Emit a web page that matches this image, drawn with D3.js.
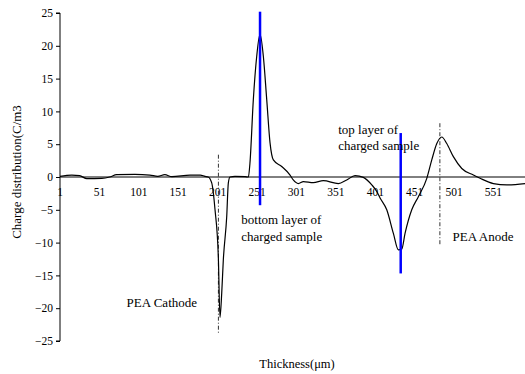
<!DOCTYPE html>
<html>
<head>
<meta charset="utf-8">
<script src="https://cdn.jsdelivr.net/npm/d3@7"></script>
<style>
  body { margin: 0; background: #fff; }
  svg text { font-family: "Liberation Serif", "Times New Roman", serif; fill: #000; }
</style>
</head>
<body>
<svg id="chart" width="525" height="374"></svg>
<script>
// values
var thickness = [1, 16, 26, 35, 54, 64, 73, 96, 115, 125, 134, 143, 166, 179, 185,
  189, 193.5, 197.7, 201.9, 204, 206.2, 208.2, 212.5, 214.6, 216.7,
  223, 236, 240, 242, 246.3, 250.6, 254.8, 259, 263.3, 267.5, 271.7, 282.3, 292.9,
  297, 303.4, 309.8, 322.4, 335.1, 354.2, 364.8, 375.4, 385.9, 396.6, 402.9, 407.1,
  415.6, 424, 430.3, 434.6, 438.8, 447.3, 455.7, 466.4, 472.7, 479.1, 485.4, 491.7,
  500.1, 510.8, 525.5, 534, 550.9, 568, 591];
var charge = [0.1, 0.3, 0.2, -0.25, -0.2, 0, 0.35, 0.4, 0.3, 0.1, 0.35, 0.05, 0.3, 0.3, 0.1,
  0, -0.9, -5.0, -12.2, -21.4, -17.7, -12.7, -6.1, -0.9, 0,
  0.1, 0.05, 0, 2.1, 11.8, 18.4, 21.8, 18.4, 11.8, 5.2, 2.6, 1.6, 0.3,
  -0.45, -1.0, -0.7, -0.87, -0.56, -1.0, -0.45, 0.2, -0.05, -1.2, -2.2, -3.2,
  -5.0, -8.6, -11.1, -11.0, -8.6, -5.0, -3.0, -0.2, 2.6, 5.1, 6.1, 5.1,
  3.1, 1.3, 0.3, -0.2, -1.0, -1.2, -1.0];

var xTicks = [1, 51, 101, 151, 201, 251, 301, 351, 401, 451, 501, 551];
var yTicks = [-25, -20, -15, -10, -5, 0, 5, 10, 15, 20, 25];

// blue markers and dash-dot electrode lines: [x, yTop, yBottom]
var blueLines = [[254.8, 25.2, -4.3], [433.3, 6.7, -14.7]];
var electrodeLines = [[202, 3.4, -23.8], [483, 8.2, -10.4]];

// annotations: [text, x, y] in data units
var notes = [
  ["PEA Cathode", 85.5, -19.8],
  ["bottom layer of", 231, -7.1],
  ["charged sample", 231, -9.7],
  ["top layer of", 354, 6.6],
  ["charged sample", 354, 4.1],
  ["PEA Anode", 499, -9.7]
];

var svg = d3.select("#chart");

var x = d3.scaleLinear().domain([1, 591]).range([60, 525]);
var y = d3.scaleLinear().domain([-25, 25]).range([341, 13]);

// y axis
var yAxis = svg.append("g")
  .attr("transform", "translate(60,0)")
  .call(d3.axisLeft(y).tickValues(yTicks).tickSize(4).tickPadding(3));
yAxis.select(".domain").attr("stroke", "#000").attr("d", "M-4," + y(25) + "H0V" + y(-25) + "H-4");
yAxis.selectAll("text").style("font-size", "11.5px")
  .attr("font-family", null);

// x axis line at zero, labels only
svg.append("line")
  .attr("x1", x(1)).attr("x2", 525)
  .attr("y1", y(0)).attr("y2", y(0))
  .attr("stroke", "#000").attr("stroke-width", 1);

svg.append("g").selectAll("text")
  .data(xTicks)
  .join("text")
  .attr("x", function (d) { return x(d); })
  .attr("y", y(0) + 19)
  .attr("text-anchor", "middle")
  .style("font-size", "11.5px")
  .text(function (d) { return d; });

// electrode lines
svg.append("g").selectAll("line")
  .data(electrodeLines)
  .join("line")
  .attr("x1", function (d) { return x(d[0]); })
  .attr("x2", function (d) { return x(d[0]); })
  .attr("y1", function (d) { return y(d[1]); })
  .attr("y2", function (d) { return y(d[2]); })
  .attr("stroke", "#333")
  .attr("stroke-width", 1)
  .attr("stroke-dasharray", "4,2,1,2");

// charge curve
var line = d3.line()
  .x(function (d, i) { return x(thickness[i]); })
  .y(function (d) { return y(d); })
  .curve(d3.curveMonotoneX);

svg.append("path")
  .datum(charge)
  .attr("d", line)
  .attr("fill", "none")
  .attr("stroke", "#000")
  .attr("stroke-width", 1.2)
  .attr("stroke-linejoin", "round");

// blue markers
svg.append("g").selectAll("line")
  .data(blueLines)
  .join("line")
  .attr("x1", function (d) { return x(d[0]); })
  .attr("x2", function (d) { return x(d[0]); })
  .attr("y1", function (d) { return y(d[1]); })
  .attr("y2", function (d) { return y(d[2]); })
  .attr("stroke", "#0000ff")
  .attr("stroke-width", 2.5);

// annotations
svg.append("g").selectAll("text")
  .data(notes)
  .join("text")
  .attr("x", function (d) { return x(d[1]); })
  .attr("y", function (d) { return y(d[2]); })
  .style("font-size", "13px")
  .text(function (d) { return d[0]; });

// axis titles
svg.append("text")
  .attr("transform", "translate(21,172) rotate(-90)")
  .attr("text-anchor", "middle")
  .style("font-size", "13px")
  .text("Charge distribution(C/m3");

svg.append("text")
  .attr("x", 297)
  .attr("y", 368)
  .attr("text-anchor", "middle")
  .style("font-size", "12.5px")
  .text("Thickness(μm)");
</script>
</body>
</html>
